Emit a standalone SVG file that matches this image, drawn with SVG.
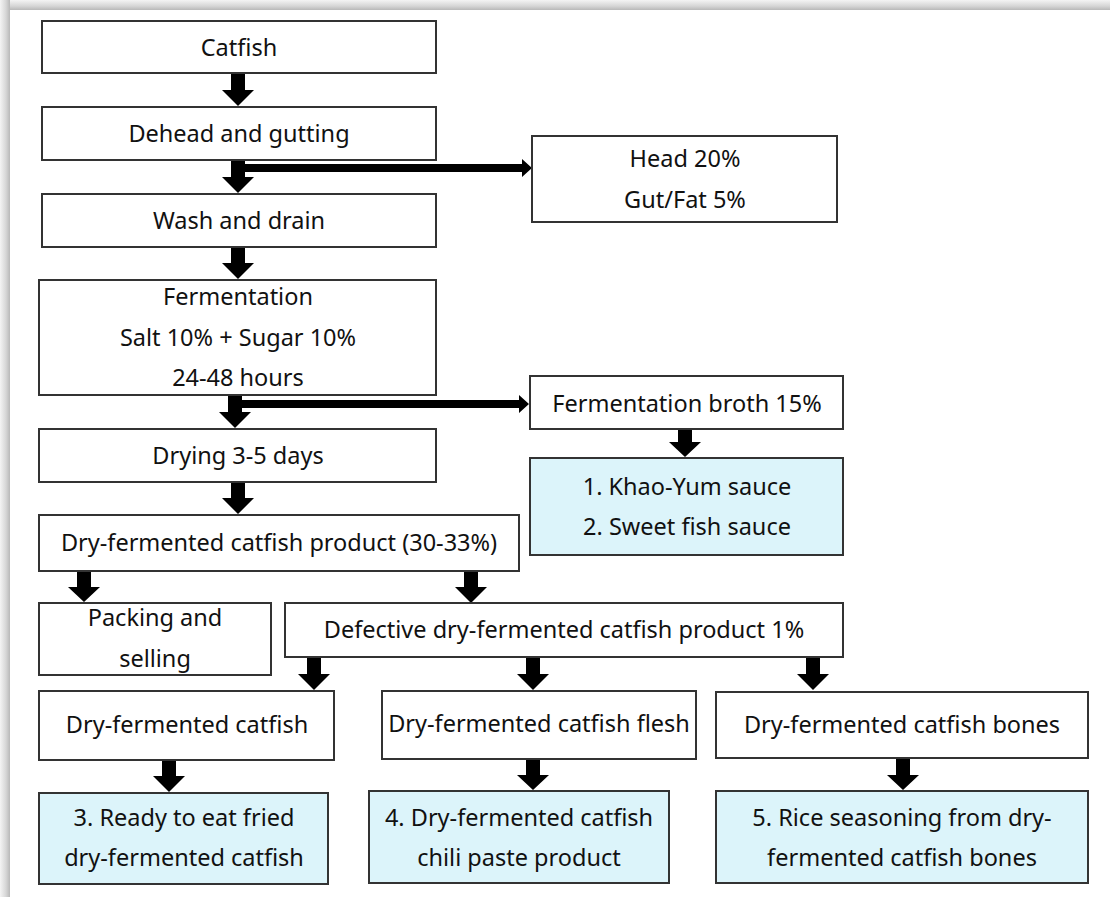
<svg xmlns="http://www.w3.org/2000/svg" width="1110" height="897" viewBox="0 0 1110 897">
<defs>
<linearGradient id="shTop" x1="0" y1="0" x2="0" y2="1">
<stop offset="0" stop-color="#f4f4f4"/>
<stop offset="0.6" stop-color="#d6d6d6"/>
<stop offset="1" stop-color="#b8b8b8"/>
</linearGradient>
<linearGradient id="shLeft" x1="0" y1="0" x2="1" y2="0">
<stop offset="0" stop-color="#f4f4f4"/>
<stop offset="0.6" stop-color="#d6d6d6"/>
<stop offset="1" stop-color="#b8b8b8"/>
</linearGradient>
<style>
.box{fill:#ffffff;stroke:#333333;stroke-width:2}
.hl{fill:#dcf4fa;stroke:#333333;stroke-width:2}
.t{font-family:"Noto Sans","Open Sans","DejaVu Sans",sans-serif;font-size:23.5px;fill:#111111;text-anchor:middle;dominant-baseline:central}
.arr{fill:#000000}
</style>
</defs>
<rect x="0" y="0" width="1110" height="897" fill="#ffffff"/>
<rect x="0" y="0" width="1110" height="10" fill="url(#shTop)"/>
<rect x="0" y="0" width="10" height="897" fill="url(#shLeft)"/>

<g id="connectors">
<path class="arr" d="M231,73 H245 V90 H254 L238,106 L222,90 H231 Z"/>
<path class="arr" d="M231,160 H245 V177 H254 L238,193 L222,177 H231 Z"/>
<path class="arr" d="M240,164 H522 V159 L532,168 L522,177 V172 H240 Z"/>
<path class="arr" d="M231,247 H245 V263 H254 L238,279 L222,263 H231 Z"/>
<path class="arr" d="M228,395 H242 V412 H251 L235,428 L219,412 H228 Z"/>
<path class="arr" d="M240,400 H519 V395 L529,404 L519,413 V408 H240 Z"/>
<path class="arr" d="M231,482 H245 V498 H254 L238,514 L222,498 H231 Z"/>
<path class="arr" d="M678,429 H692 V442 H701 L685,457 L669,442 H678 Z"/>
<path class="arr" d="M77,571 H91 V587 H100 L84,602 L68,587 H77 Z"/>
<path class="arr" d="M464,571 H478 V587 H487 L471,603 L455,587 H464 Z"/>
<path class="arr" d="M307,657 H321 V674 H330 L314,690 L298,674 H307 Z"/>
<path class="arr" d="M526,657 H540 V674 H549 L533,690 L517,674 H526 Z"/>
<path class="arr" d="M806,657 H820 V674 H829 L813,690 L797,674 H806 Z"/>
<path class="arr" d="M162,760 H176 V776 H185 L169,792 L153,776 H162 Z"/>
<path class="arr" d="M526,759 H540 V775 H549 L533,790 L517,775 H526 Z"/>
<path class="arr" d="M896,758 H910 V775 H919 L903,790 L887,775 H896 Z"/>
</g>

<g id="catfish"><rect class="box" x="42" y="21" width="394" height="52"/><text class="t" x="239" y="47">Catfish</text></g>
<g id="dehead"><rect class="box" x="42" y="107" width="394" height="53"/><text class="t" x="239" y="133">Dehead and gutting</text></g>
<g id="head"><rect class="box" x="532" y="136" width="305" height="86"/><text class="t" x="685" y="158">Head 20%</text><text class="t" x="685" y="199">Gut/Fat 5%</text></g>
<g id="wash"><rect class="box" x="42" y="194" width="394" height="53"/><text class="t" x="239" y="220">Wash and drain</text></g>
<g id="fermentation"><rect class="box" x="39" y="280" width="397" height="115"/><text class="t" x="238" y="296">Fermentation</text><text class="t" x="238" y="337">Salt 10% + Sugar 10%</text><text class="t" x="238" y="377">24-48 hours</text></g>
<g id="broth"><rect class="box" x="530" y="376" width="313" height="53"/><text class="t" x="687" y="403">Fermentation broth 15%</text></g>
<g id="sauce"><rect class="hl" x="530" y="458" width="313" height="97"/><text class="t" x="687" y="486">1. Khao-Yum sauce</text><text class="t" x="687" y="526">2. Sweet fish sauce</text></g>
<g id="drying"><rect class="box" x="39" y="429" width="397" height="53"/><text class="t" x="238" y="455">Drying 3-5 days</text></g>
<g id="product"><rect class="box" x="39" y="515" width="480" height="56"/><text class="t" x="279" y="542">Dry-fermented catfish product (30-33%)</text></g>
<g id="packing"><rect class="box" x="39" y="603" width="232" height="72"/><text class="t" x="155" y="617">Packing and</text><text class="t" x="155" y="658">selling</text></g>
<g id="defective"><rect class="box" x="285" y="603" width="558" height="54"/><text class="t" x="564" y="629">Defective dry-fermented catfish product 1%</text></g>
<g id="dfcatfish"><rect class="box" x="39" y="691" width="295" height="69"/><text class="t" x="187" y="724">Dry-fermented catfish</text></g>
<g id="flesh"><rect class="box" x="382" y="691" width="314" height="68"/><text class="t" x="539" y="723">Dry-fermented catfish flesh</text></g>
<g id="bones"><rect class="box" x="716" y="692" width="372" height="66"/><text class="t" x="902" y="724">Dry-fermented catfish bones</text></g>
<g id="product3"><rect class="hl" x="39" y="793" width="289" height="91"/><text class="t" x="184" y="817">3. Ready to eat fried</text><text class="t" x="184" y="857">dry-fermented catfish</text></g>
<g id="product4"><rect class="hl" x="369" y="791" width="300" height="92"/><text class="t" x="519" y="817">4. Dry-fermented catfish</text><text class="t" x="519" y="857">chili paste product</text></g>
<g id="product5"><rect class="hl" x="716" y="791" width="372" height="92"/><text class="t" x="902" y="817">5. Rice seasoning from dry-</text><text class="t" x="902" y="857">fermented catfish bones</text></g>
</svg>
